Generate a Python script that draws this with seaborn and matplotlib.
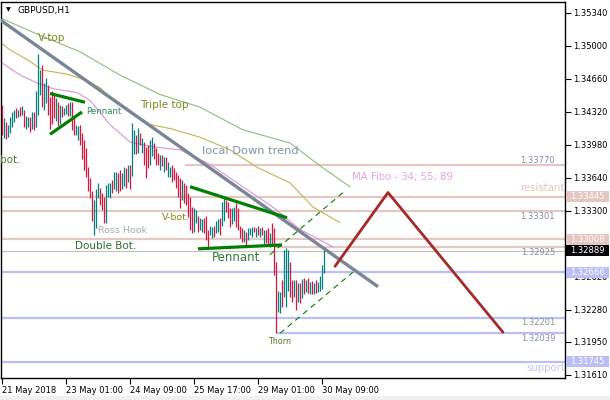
import numpy as np
import pandas as pd
import matplotlib
matplotlib.use("Agg")
import matplotlib.pyplot as plt
from matplotlib.patches import Rectangle
from matplotlib.transforms import blended_transform_factory
import seaborn as sns

# ---------------- data ----------------
bar_high = [
    1.3439, 1.3426, 1.3422, 1.3419, 1.3427, 1.3432, 1.3434, 1.3436, 1.3434, 1.3437,
    1.3438, 1.3434, 1.3428, 1.3427, 1.3427, 1.3432, 1.3432, 1.3454, 1.3492, 1.3475,
    1.3480, 1.3462, 1.3467, 1.3460, 1.3447, 1.3454, 1.3451, 1.3446, 1.3442, 1.3439,
    1.3438, 1.3436, 1.3439, 1.3441, 1.3442, 1.3442, 1.3427, 1.3419, 1.3418, 1.3419,
    1.3410, 1.3403, 1.3395, 1.3375, 1.3364, 1.3351, 1.3341, 1.3353, 1.3359, 1.3354,
    1.3349, 1.3344, 1.3357, 1.3359, 1.3359, 1.3362, 1.3370, 1.3370, 1.3369, 1.3372,
    1.3369, 1.3375, 1.3374, 1.3377, 1.3377, 1.3421, 1.3413, 1.3408, 1.3415, 1.3410,
    1.3405, 1.3401, 1.3396, 1.3398, 1.3403, 1.3406, 1.3400, 1.3395, 1.3390, 1.3388,
    1.3388, 1.3386, 1.3386, 1.3380, 1.3375, 1.3377, 1.3374, 1.3370, 1.3367, 1.3364,
    1.3362, 1.3359, 1.3357, 1.3348, 1.3344, 1.3334, 1.3333, 1.3331, 1.3325, 1.3323,
    1.3322, 1.3323, 1.3325, 1.3310, 1.3315, 1.3313, 1.3315, 1.3320, 1.3322, 1.3323,
    1.3339, 1.3343, 1.3341, 1.3339, 1.3333, 1.3333, 1.3334, 1.3338, 1.3333, 1.3315,
    1.3312, 1.3310, 1.3308, 1.3312, 1.3312, 1.3313, 1.3313, 1.3312, 1.3314, 1.3312,
    1.3313, 1.3310, 1.3310, 1.3312, 1.3307, 1.3318, 1.3312, 1.3277, 1.3248, 1.3246,
    1.3259, 1.3290, 1.3292, 1.3290, 1.3277, 1.3259, 1.3259, 1.3259, 1.3256, 1.3256,
    1.3260, 1.3261, 1.3259, 1.3261, 1.3257, 1.3258, 1.3256, 1.3259, 1.3257, 1.3263,
    1.3274, 1.3292,
]
bar_low = [
    1.3408, 1.3405, 1.3404, 1.3406, 1.3410, 1.3417, 1.3422, 1.3426, 1.3427, 1.3428,
    1.3429, 1.3416, 1.3414, 1.3416, 1.3411, 1.3414, 1.3413, 1.3417, 1.3429, 1.3449,
    1.3437, 1.3434, 1.3441, 1.3429, 1.3414, 1.3420, 1.3426, 1.3423, 1.3418, 1.3420,
    1.3427, 1.3429, 1.3430, 1.3428, 1.3428, 1.3413, 1.3408, 1.3408, 1.3403, 1.3398,
    1.3384, 1.3372, 1.3365, 1.3351, 1.3343, 1.3320, 1.3305, 1.3312, 1.3343, 1.3336,
    1.3331, 1.3318, 1.3318, 1.3344, 1.3343, 1.3348, 1.3353, 1.3351, 1.3349, 1.3351,
    1.3353, 1.3356, 1.3354, 1.3360, 1.3353, 1.3366, 1.3389, 1.3389, 1.3390, 1.3398,
    1.3390, 1.3377, 1.3364, 1.3374, 1.3377, 1.3387, 1.3384, 1.3377, 1.3377, 1.3372,
    1.3376, 1.3370, 1.3372, 1.3365, 1.3365, 1.3360, 1.3362, 1.3354, 1.3344, 1.3333,
    1.3341, 1.3338, 1.3336, 1.3324, 1.3310, 1.3307, 1.3308, 1.3318, 1.3308, 1.3310,
    1.3308, 1.3307, 1.3300, 1.3291, 1.3305, 1.3302, 1.3303, 1.3307, 1.3308, 1.3305,
    1.3315, 1.3320, 1.3329, 1.3323, 1.3313, 1.3317, 1.3320, 1.3313, 1.3310, 1.3302,
    1.3298, 1.3298, 1.3295, 1.3300, 1.3305, 1.3303, 1.3308, 1.3303, 1.3305, 1.3303,
    1.3305, 1.3295, 1.3297, 1.3294, 1.3293, 1.3294, 1.3264, 1.3204, 1.3226, 1.3225,
    1.3231, 1.3241, 1.3231, 1.3248, 1.3241, 1.3236, 1.3241, 1.3228, 1.3236, 1.3235,
    1.3240, 1.3244, 1.3246, 1.3245, 1.3244, 1.3244, 1.3244, 1.3245, 1.3246, 1.3248,
    1.3250, 1.3266,
]
bar_dir = ("duduuuudud" "uduududuuu" "duuddddudu" "duududduud" "dddddduuud"
           "dduuuduudd" "uududuudud" "uddduudddu" "duduuddddd" "uddddduudu"
           "uddduuduud" "uuddduuddd" "duduuududu" "dudduddduu" "duuuddudud"
           "ududududuu" "uu")

time_tick_pos = [0, 32, 64, 96, 128, 160]
time_tick_labels = ["21 May 2018", "23 May 01:00", "24 May 09:00",
                    "25 May 17:00", "29 May 01:00", "30 May 09:00"]
price_ticks = [1.35340, 1.35000, 1.34660, 1.34320, 1.33980, 1.33640,
               1.33300, 1.32960, 1.32620, 1.32280, 1.31950, 1.31610]
hidden_tick_labels = [1.32960]

ma89_i = [-1, 19, 39, 59, 79, 99, 120, 144, 160, 174]
ma89_p = [1.3529, 1.3511, 1.3494, 1.3470, 1.3450, 1.3437, 1.3414, 1.3400, 1.3375, 1.3355]
ma55_i = [-1, 4, 12.5, 20.5, 32.5, 41.5, 49, 55.5, 65.5, 74, 84, 99, 114, 127.5, 144, 155.5, 169]
ma55_p = [1.3504, 1.3496, 1.3486, 1.3475, 1.3471, 1.3465, 1.3457, 1.3444, 1.3429, 1.3419,
          1.3415, 1.3406, 1.3393, 1.3375, 1.3359, 1.3334, 1.3318]
ma34_i = [-1, 9, 17.5, 25.5, 37.5, 44, 54, 64, 75.5, 89, 104, 122.5, 135.5, 149, 165.5]
ma34_p = [1.3484, 1.3470, 1.3462, 1.3456, 1.3452, 1.3444, 1.3419, 1.3401, 1.3396, 1.3393,
          1.3378, 1.3352, 1.3334, 1.3311, 1.3293]

trend_i = [-1, 188]
trend_p = [1.3527, 1.3252]
pen1_up_i, pen1_up_p = [24, 41.5], [1.3451, 1.3442]
pen1_lo_i, pen1_lo_p = [24, 40], [1.3409, 1.3432]
pen2_up_i, pen2_up_p = [94, 142.5], [1.3355, 1.3323]
pen2_lo_i, pen2_lo_p = [98, 140], [1.3291, 1.3295]
chan_up_i, chan_up_p = [134, 170.5], [1.3285, 1.3349]
chan_lo_i, chan_lo_p = [139, 175.5], [1.3204, 1.3267]
zig_i = [166.5, 193, 250.5]
zig_p = [1.3273, 1.3349, 1.3205]

resist_prices = [1.33770, 1.33445, 1.33301, 1.33008, 1.32925]
resist_starts = [91.5, -0.5, -0.5, -0.5, 136.5]
support_prices = [1.32666, 1.32201, 1.32039, 1.31745]
support_starts = [-0.5, -0.5, 137.5, -0.5]
bid_price = 1.32889

line_label_prices = [1.33770, 1.33301, 1.32925, 1.32201, 1.32039]
line_label_above = [True, False, False, False, False]
axis_box_prices = [1.33445, 1.33008, 1.32666, 1.31745, 1.32889]
axis_box_kinds = ["r", "r", "s", "s", "bid"]

# ---------------- style ----------------
sns.set_style("white")
plt.rcParams["font.family"] = ["DejaVu Sans"]

UP = "#008080"
DOWN = "#DC143C"
RES = "#E2C9C4"
SUP = "#BEBEF6"

fig = plt.figure(figsize=(6.1, 4.0), dpi=100)
fig.patches.append(Rectangle((0, 0), 1, 4 / 400, transform=fig.transFigure,
                             color="#F0F0F0", zorder=0))
ax = fig.add_axes([1 / 610, 22 / 400, 564 / 610, 376 / 400])
ax.set_facecolor("white")

x_min, x_max = -0.5, 281.5
y_top, y_bot = 1.35453, 1.31579
ax.set_xlim(x_min, x_max)
ax.set_ylim(y_bot, y_top)

# levels
for p, s in zip(resist_prices, resist_starts):
    ax.hlines(p, s, x_max, color=RES, lw=1.6, zorder=1)
for p, s in zip(support_prices, support_starts):
    ax.hlines(p, s, x_max, color=SUP, lw=1.6, zorder=1)
ax.hlines(bid_price, x_min, x_max, color="#C0C0C0", lw=0.8, zorder=1)

# moving averages
ma_df = pd.concat([
    pd.DataFrame({"i": ma89_i, "p": ma89_p, "ma": "89"}),
    pd.DataFrame({"i": ma55_i, "p": ma55_p, "ma": "55"}),
    pd.DataFrame({"i": ma34_i, "p": ma34_p, "ma": "34"}),
])
sns.lineplot(data=ma_df, x="i", y="p", hue="ma", sort=False, estimator=None,
             palette={"89": "#8DBF7A", "55": "#C2B552", "34": "#DC93DC"},
             lw=0.8, legend=False, ax=ax, zorder=2)

# bars
xs = np.arange(len(bar_high))
cols = [UP if d == "u" else DOWN for d in bar_dir]
ax.vlines(xs, bar_low, bar_high, colors=cols, lw=0.9, zorder=3)

# trend line
ax.plot(trend_i, trend_p, color="#7A8696", lw=2.4, zorder=4, solid_capstyle="butt")
# pennants
for xi, yp in [(pen1_up_i, pen1_up_p), (pen1_lo_i, pen1_lo_p),
               (pen2_up_i, pen2_up_p), (pen2_lo_i, pen2_lo_p)]:
    ax.plot(xi, yp, color="#008000", lw=2.3, zorder=4, solid_capstyle="butt")
# channel
for xi, yp in [(chan_up_i, chan_up_p), (chan_lo_i, chan_lo_p)]:
    ax.plot(xi, yp, color="#008000", lw=0.8, ls=(0, (5, 4)), zorder=4)
# zigzag
ax.plot(zig_i, zig_p, color="#A52A2A", lw=2.0, zorder=4)

# annotations
def note(x, y, s, color, size, **kw):
    ax.text(x, y, s, color=color, fontsize=size, va="center", ha="left",
            zorder=6, clip_on=True, **kw)

note(18, 1.3508, "V-top", "#7A8A1E", 7.5)
note(42, 1.3432, "Pennant", "#2E8B57", 6.2)
note(69, 1.3439, "Triple top", "#7A8A1E", 7.5)
note(-1.2, 1.3382, "bot.", "#4B7B2B", 7.5)
note(100, 1.3392, "local Down trend", "#8393AB", 8.2)
note(175, 1.3365, "MA Fibo - 34; 55; 89", "#E2A6E2", 7.3)
note(80, 1.3323, "V-bot.", "#8A8A10", 6.8)
note(48, 1.3310, "Ross Hook", "#ABABAB", 6.8)
note(36.5, 1.3294, "Double Bot.", "#2F6F2F", 7.5)
note(105, 1.3282, "Pennant", "#2E7D32", 8.5)
note(133, 1.3195, "Thorn", "#4B7B2B", 5.8)
ax.text(x_max, 1.3354, "resistant", color="#E3C4BF", fontsize=7.3, va="center",
        ha="right", zorder=6)
ax.text(x_max, 1.3168, "support", color="#C4C4F2", fontsize=7.3, va="center",
        ha="right", zorder=6)

# line labels
for p, above in zip(line_label_prices, line_label_above):
    ax.text(276.5, p + (0.00007 if above else -0.00007), f"{p:.5f}",
            color="#8290A4", fontsize=6, ha="right",
            va="bottom" if above else "top", zorder=6)

# title
tr = blended_transform_factory(ax.transAxes, ax.transData)
ax.text(5 / 564, 1.3537, "\u25BC", transform=tr,
        fontsize=4.5, va="center", ha="left", color="black")
ax.text(16 / 564, 1.3537, "GBPUSD,H1", transform=tr,
        fontsize=6.5, va="center", ha="left", color="black")

# axes
for sp in ax.spines.values():
    sp.set_visible(True)
    sp.set_color("black")
    sp.set_linewidth(1.0)
ax.yaxis.tick_right()
ax.set_yticks(price_ticks)
ax.set_yticklabels(["" if v in hidden_tick_labels else f"{v:.5f}" for v in price_ticks])
ax.set_xticks(time_tick_pos)
ax.set_xticklabels(time_tick_labels, ha="left")
ax.tick_params(axis="y", direction="out", length=4, width=0.8, pad=2,
               labelsize=6, colors="black", right=True, left=False)
ax.tick_params(axis="x", direction="out", length=4, width=0.8, pad=2,
               labelsize=6, colors="black", bottom=True)
ax.set_xlabel("")
ax.set_ylabel("")

# price boxes on axis
bh = 0.00113
for p, k in zip(axis_box_prices, axis_box_kinds):
    fc = {"r": "#E5C6C0", "s": "#BDBDF5", "bid": "black"}[k]
    ax.add_patch(Rectangle((565 / 564, p - bh / 2), 43 / 564, bh, transform=tr,
                           facecolor=fc, edgecolor="none", clip_on=False, zorder=7))
    ax.text(586 / 564, p, f"{p:.5f}", transform=tr, color="white", fontsize=6,
            ha="center", va="center", zorder=8, clip_on=False)

fig.savefig("out.png", dpi=100)
